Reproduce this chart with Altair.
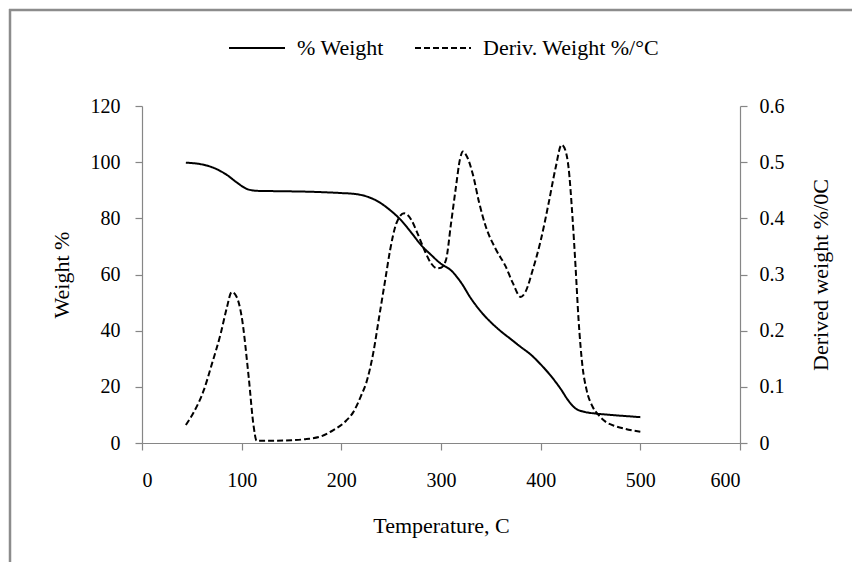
import altair as alt
import pandas as pd

# ---- data ----
temp_w = [44, 55, 65, 75, 85, 95, 105, 115, 130, 150, 175, 200, 210, 220, 230, 240, 250, 260,
          270, 280, 290, 300, 310, 320, 330, 340, 350, 360, 370, 380, 390, 400, 410, 420,
          428, 435, 445, 455, 470, 485, 500]
weight = [99.8, 99.5, 98.8, 97.5, 95.5, 92.8, 90.5, 89.8, 89.7, 89.6, 89.4, 89.0, 88.8, 88.3,
          87.2, 85.3, 82.6, 79.3, 75.0, 70.5, 67.0, 63.8, 61.5, 57.2, 51.5, 46.8, 43.0, 39.8,
          37.0, 34.2, 31.5, 28.0, 24.0, 19.3, 15.0, 12.3, 11.0, 10.5, 10.0, 9.6, 9.2]

temp_d = [44, 52, 62, 70, 79, 85, 90, 95, 100, 107, 112, 115, 130, 150, 165, 180, 192, 205,
          212, 220, 225, 232, 238, 244, 249, 255, 263, 270, 276, 283, 290, 296, 300, 305, 310,
          315, 319, 322, 326, 332, 338, 345, 355, 365, 372, 380, 385, 392, 400, 408, 415, 421,
          425, 428, 432, 435, 438, 442, 446, 452, 458, 465, 475, 485, 500]
deriv = [0.032, 0.055, 0.094, 0.14, 0.195, 0.24, 0.269, 0.26, 0.225, 0.118, 0.03, 0.004,
         0.004, 0.005, 0.007, 0.012, 0.023, 0.04, 0.055, 0.085, 0.107, 0.16, 0.225, 0.29,
         0.344, 0.39, 0.409, 0.398, 0.375, 0.345, 0.32, 0.311, 0.312, 0.326, 0.39, 0.456,
         0.505, 0.519, 0.51, 0.478, 0.43, 0.385, 0.345, 0.314, 0.285, 0.26, 0.27, 0.308,
         0.36, 0.427, 0.49, 0.531, 0.52, 0.49, 0.40, 0.314, 0.22, 0.136, 0.095, 0.065, 0.05,
         0.038, 0.03, 0.025, 0.02]

series_names = ["% Weight", "Deriv. Weight %/°C"]
x_ticks = [0, 100, 200, 300, 400, 500, 600]
left_ticks = [0, 20, 40, 60, 80, 100, 120]
right_ticks = [0, 0.1, 0.2, 0.3, 0.4, 0.5, 0.6]

FONT = "Liberation Serif"
GRAY = "#868686"

df_w = pd.DataFrame({"Temperature": temp_w, "value": weight, "series": series_names[0]})
df_d = pd.DataFrame({"Temperature": temp_d, "value": deriv, "series": series_names[1]})

dash_scale = alt.Scale(domain=series_names, range=[[1, 0], [6, 3]])
legend = alt.Legend(
    orient="none", legendX=86, legendY=-87, direction="horizontal", title=None,
    symbolType="stroke", symbolSize=3136, symbolStrokeWidth=2, symbolStrokeColor="black",
    labelFont=FONT, labelFontSize=22, labelColor="black", labelOffset=11, columnPadding=27,
    labelLimit=400,
)

x_axis = alt.Axis(values=x_ticks, title="Temperature, C", tickSize=7, labelPadding=20,
                  titleX=299, titleY=82, titleBaseline="middle", titleAlign="center")

base_x = alt.X("Temperature:Q", scale=alt.Scale(domain=[0, 600]), axis=x_axis)

w_line = alt.Chart(df_w).mark_line(color="black", strokeWidth=2, interpolate="monotone").encode(
    x=base_x,
    y=alt.Y("value:Q", scale=alt.Scale(domain=[0, 120]),
            axis=alt.Axis(orient="left", values=left_ticks, title="Weight %", tickSize=7,
                          labelPadding=15, titleAngle=270, titleX=-81, titleY=168.5,
                          titleBaseline="middle", titleAlign="center")),
    strokeDash=alt.StrokeDash("series:N", scale=dash_scale, legend=legend),
)

d_line = alt.Chart(df_d).mark_line(color="black", strokeWidth=2, interpolate="monotone").encode(
    x=base_x,
    y=alt.Y("value:Q", scale=alt.Scale(domain=[0, 0.6]),
            axis=alt.Axis(orient="right", values=right_ticks, format="~g",
                          title="Derived weight %/0C", tickSize=7, labelPadding=12,
                          titleAngle=270, titleX=80, titleY=168.5,
                          titleBaseline="middle", titleAlign="center")),
    strokeDash=alt.StrokeDash("series:N", scale=dash_scale, legend=legend),
)

frame_df = pd.DataFrame({"k": [0]})
frame_left = alt.Chart(frame_df).mark_rule(color="#8c8c8c", strokeWidth=2.5).encode(
    x=alt.value(-132), y=alt.value(-97), y2=alt.value(470))
frame_top = alt.Chart(frame_df).mark_rule(color="#8c8c8c", strokeWidth=2.5).encode(
    x=alt.value(-133), x2=alt.value(720), y=alt.value(-96))

chart = alt.layer(w_line, d_line, frame_left, frame_top).resolve_scale(y="independent").properties(
    width=598, height=337,
    autosize=alt.AutoSizeParams(type="none"),
    padding={"left": 142, "top": 106, "right": 112, "bottom": 119},
    background="white",
).configure_view(stroke=None).configure_axis(
    grid=False, domainColor=GRAY, tickColor=GRAY, labelColor="black", titleColor="black",
    labelFont=FONT, titleFont=FONT, labelFontSize=20, titleFontSize=22,
    titleFontWeight="normal", domainWidth=1.2, tickWidth=1.2,
)

chart.save("out.html", embed_options={"renderer": "svg", "actions": False})
